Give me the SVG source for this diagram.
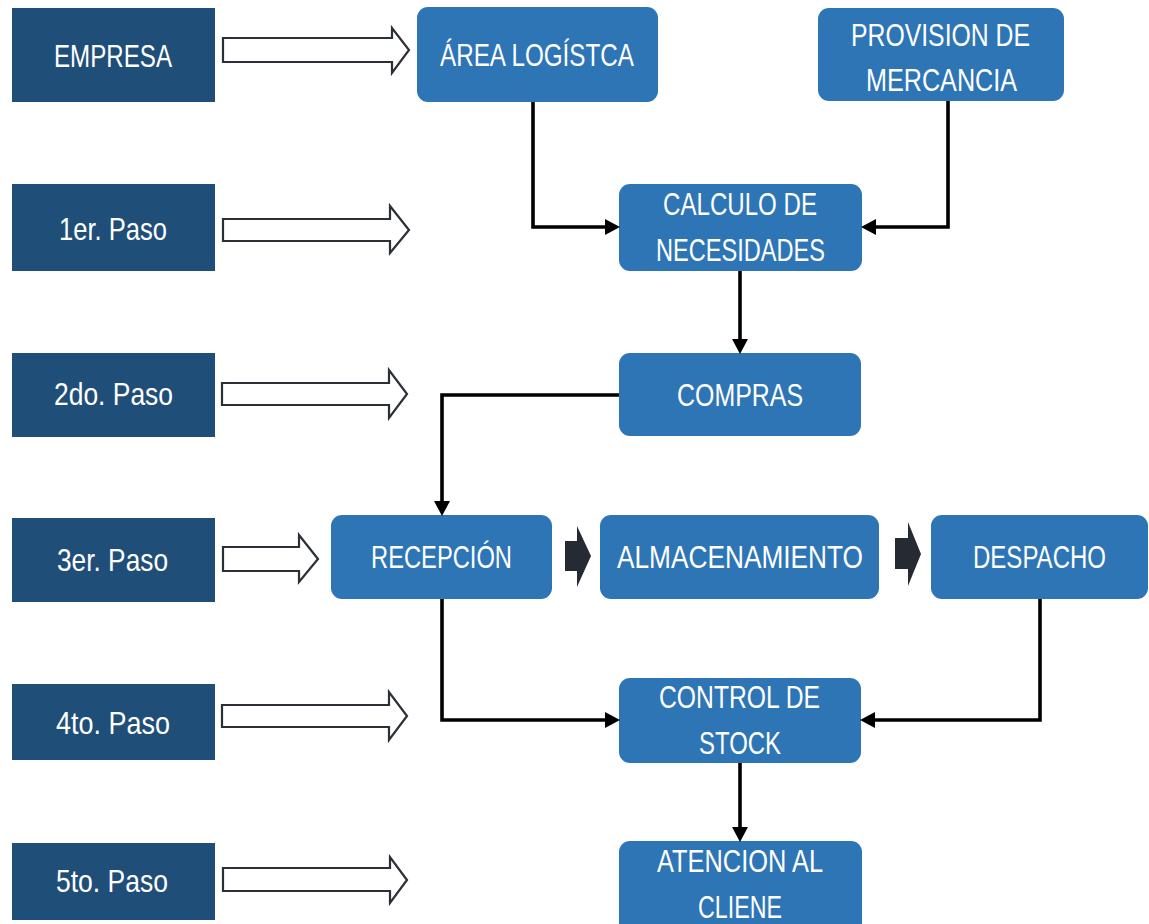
<svg xmlns="http://www.w3.org/2000/svg" width="1149" height="924" viewBox="0 0 1149 924">
<style>
.step{fill:#1F4E79;}
.node{fill:#2E75B6;}
.t{fill:#ffffff;font-family:"Liberation Sans","DejaVu Sans",sans-serif;font-size:32px;}
.hollow{fill:#ffffff;stroke:#2b2f36;stroke-width:2.2;stroke-linejoin:miter;}
.chev{fill:#252a33;}
.con{fill:none;stroke:#000000;stroke-width:3.6;stroke-linejoin:miter;}
</style>
<defs>
<marker id="ah" markerUnits="userSpaceOnUse" markerWidth="15" markerHeight="16" refX="4" refY="8" orient="auto">
<path d="M0,0 L15,8 L0,16 Z" fill="#000000"/>
</marker>
</defs>
<rect width="1149" height="924" fill="#ffffff"/>

<g id="step-empresa"><rect class="step" x="12" y="8" width="203" height="94"/><text class="t" x="54" y="67" textLength="118" lengthAdjust="spacingAndGlyphs">EMPRESA</text></g>
<g id="step-1"><rect class="step" x="12" y="184" width="203" height="87"/><text class="t" x="59" y="240" textLength="108" lengthAdjust="spacingAndGlyphs">1er. Paso</text></g>
<g id="step-2"><rect class="step" x="12" y="353" width="203" height="84"/><text class="t" x="54" y="405" textLength="119" lengthAdjust="spacingAndGlyphs">2do. Paso</text></g>
<g id="step-3"><rect class="step" x="12" y="518" width="203" height="84"/><text class="t" x="57" y="571" textLength="111" lengthAdjust="spacingAndGlyphs">3er. Paso</text></g>
<g id="step-4"><rect class="step" x="12" y="684" width="203" height="76"/><text class="t" x="56" y="734" textLength="114" lengthAdjust="spacingAndGlyphs">4to. Paso</text></g>
<g id="step-5"><rect class="step" x="12" y="843" width="203" height="77"/><text class="t" x="56" y="892" textLength="112" lengthAdjust="spacingAndGlyphs">5to. Paso</text></g>

<g id="hollow-arrows">
<path class="hollow" d="M223,38 H392 V28 L409,50 L392,73 V62 H223 Z"/>
<path class="hollow" d="M223,219 H390 V206 L409,230 L390,253 V241 H223 Z"/>
<path class="hollow" d="M222,383 H389 V370 L407,394 L389,418 V405 H222 Z"/>
<path class="hollow" d="M223,547 H299 V535 L318,559 L299,582 V571 H223 Z"/>
<path class="hollow" d="M222,705 H389 V692 L407,716 L389,740 V727 H222 Z"/>
<path class="hollow" d="M223,868 H390 V857 L407,880 L390,903 V891 H223 Z"/>
</g>

<g id="area-logistica"><rect class="node" x="417" y="7" width="241" height="95" rx="11"/><text class="t" x="440" y="66" textLength="194" lengthAdjust="spacingAndGlyphs">ÁREA LOGÍSTCA</text></g>
<g id="provision"><rect class="node" x="818" y="8" width="246" height="93" rx="11"/><text class="t" x="851" y="46" textLength="179" lengthAdjust="spacingAndGlyphs">PROVISION DE</text><text class="t" x="866" y="91" textLength="151" lengthAdjust="spacingAndGlyphs">MERCANCIA</text></g>
<g id="calculo"><rect class="node" x="619" y="184" width="243" height="87" rx="11"/><text class="t" x="663" y="215" textLength="154" lengthAdjust="spacingAndGlyphs">CALCULO DE</text><text class="t" x="656" y="261" textLength="169" lengthAdjust="spacingAndGlyphs">NECESIDADES</text></g>
<g id="compras"><rect class="node" x="619" y="353" width="242" height="83" rx="11"/><text class="t" x="677" y="406" textLength="126" lengthAdjust="spacingAndGlyphs">COMPRAS</text></g>
<g id="recepcion"><rect class="node" x="331" y="515" width="221" height="84" rx="11"/><text class="t" x="371" y="568" textLength="141" lengthAdjust="spacingAndGlyphs">RECEPCIÓN</text></g>
<g id="almacenamiento"><rect class="node" x="600" y="515" width="279" height="84" rx="11"/><text class="t" x="617" y="568" textLength="246" lengthAdjust="spacingAndGlyphs">ALMACENAMIENTO</text></g>
<g id="despacho"><rect class="node" x="931" y="515" width="217" height="84" rx="11"/><text class="t" x="973" y="568" textLength="133" lengthAdjust="spacingAndGlyphs">DESPACHO</text></g>
<g id="control"><rect class="node" x="619" y="678" width="242" height="85" rx="11"/><text class="t" x="659" y="708" textLength="161" lengthAdjust="spacingAndGlyphs">CONTROL DE</text><text class="t" x="699" y="754" textLength="82" lengthAdjust="spacingAndGlyphs">STOCK</text></g>
<g id="atencion"><rect class="node" x="619" y="841" width="243" height="95" rx="11"/><text class="t" x="657" y="872" textLength="166" lengthAdjust="spacingAndGlyphs">ATENCION AL</text><text class="t" x="698" y="918" textLength="84" lengthAdjust="spacingAndGlyphs">CLIENE</text></g>

<g id="chevrons">
<path class="chev" d="M565,541 H577 V526 L591,556 L577,587 V571 H565 Z"/>
<path class="chev" d="M895,538 H908 V522 L921,554 L908,586 V569 H895 Z"/>
</g>

<g id="connectors">
<path class="con" d="M533,102 V227 H609" marker-end="url(#ah)"/>
<path class="con" d="M948,101 V227 H872" marker-end="url(#ah)"/>
<path class="con" d="M740,271 V343" marker-end="url(#ah)"/>
<path class="con" d="M619,395 H442 V505" marker-end="url(#ah)"/>
<path class="con" d="M442,599 V720 H609" marker-end="url(#ah)"/>
<path class="con" d="M1040,599 V720 H871" marker-end="url(#ah)"/>
<path class="con" d="M740,763 V831" marker-end="url(#ah)"/>
</g>
</svg>
